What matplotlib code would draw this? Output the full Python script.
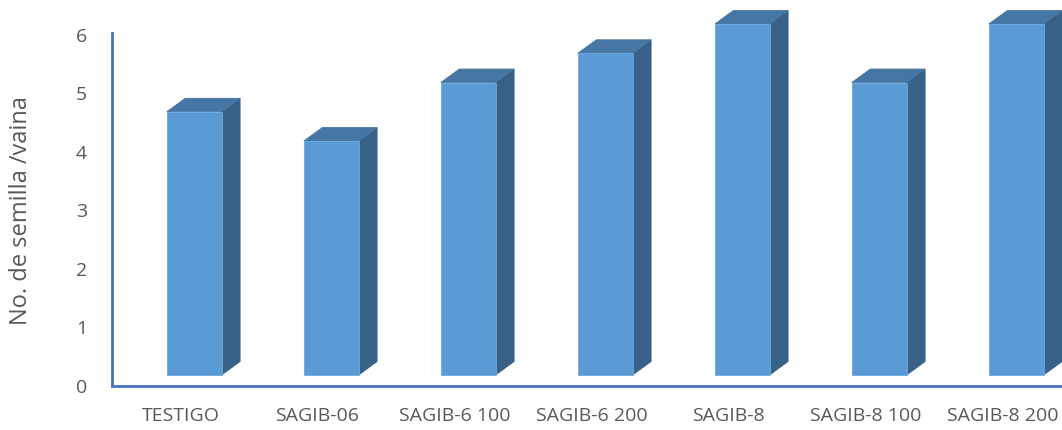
import numpy as np
import matplotlib.pyplot as plt
from matplotlib.patches import Polygon

categories = ["TESTIGO", "SAGIB-06", "SAGIB-6 100", "SAGIB-6 200",
              "SAGIB-8", "SAGIB-8 100", "SAGIB-8 200"]
values = [4.5, 4.0, 5.0, 5.5, 6.0, 5.0, 6.0]
yticks = [0, 1, 2, 3, 4, 5, 6]

front_col = "#5B9BD5"
top_col = "#4676A4"
side_col = "#386188"
axis_col = "#4472C4"
text_col = "#595959"

plt.rcParams['font.family'] = ['Open Sans', 'DejaVu Sans']

fig = plt.figure(figsize=(10.62, 4.30), dpi=100)
ax = fig.add_axes([112 / 1062, 44 / 430, 959 / 1062, 351 / 430])

# pseudo 3d geometry (data units)
w = 0.40       # front face width
off = 0.10     # front face shift from category centre
dx = 0.135     # depth offset in x
dy = 0.23      # depth offset in y
base = 0.188   # front face floor

x = np.arange(len(categories))
for xi, v in zip(x, values):
    x0 = xi + off - w / 2
    x1 = xi + off + w / 2
    top = base + v
    front = Polygon([(x0, base), (x1, base), (x1, top), (x0, top)],
                    closed=True, fc=front_col, ec="#6FA8DC", lw=0.6, clip_on=False, zorder=3)
    side = Polygon([(x1, base), (x1 + dx, base + dy), (x1 + dx, top + dy), (x1, top)],
                   closed=True, fc=side_col, ec=side_col, lw=0.6, clip_on=False, zorder=2)
    lid = Polygon([(x0, top), (x1, top), (x1 + dx, top + dy), (x0 + dx, top + dy)],
                  closed=True, fc=top_col, ec=top_col, lw=0.6, clip_on=False, zorder=2)
    ax.add_patch(side)
    ax.add_patch(lid)
    ax.add_patch(front)

ax.set_xlim(-0.5, len(categories) - 0.5)
ax.set_ylim(0, 6)
ax.set_xticks(x)
ax.set_xticklabels(categories)
ax.set_yticks(yticks)
ax.tick_params(axis="both", length=0, labelsize=14, colors=text_col)
ax.tick_params(axis="x", pad=15)
ax.tick_params(axis="y", pad=18)
ax.set_ylabel("No. de semilla /vaina", fontsize=17, color=text_col)
ax.yaxis.set_label_coords(-0.082, 0.5)

for s in ["top", "right"]:
    ax.spines[s].set_visible(False)
for s in ["left", "bottom"]:
    ax.spines[s].set_color(axis_col)
    ax.spines[s].set_linewidth(2)
ax.spines["left"].set_bounds(0, 6.03)

fig.savefig("out.png", dpi=100)
